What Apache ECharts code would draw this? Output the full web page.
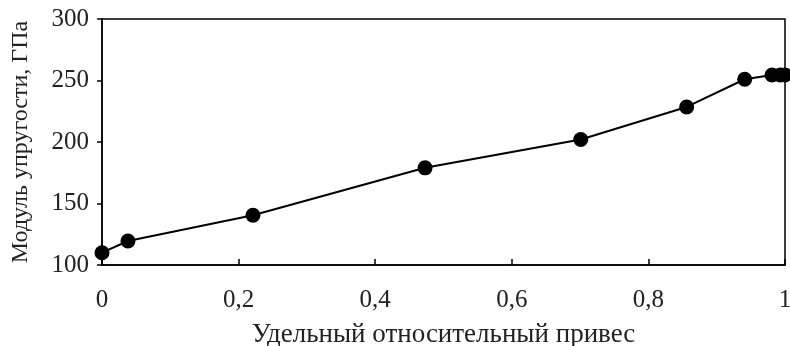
<!DOCTYPE html>
<html>
<head>
<meta charset="utf-8">
<script src="https://cdn.jsdelivr.net/npm/echarts@6/dist/echarts.min.js"></script>
<style>
  html, body { margin: 0; padding: 0; background: #fff; }
  #chart { width: 790px; height: 346px; }
</style>
</head>
<body>
<div id="chart"></div>
<script>
// удельный привес (x) и модуль упругости (y)
const xValues = [0, 0.038, 0.221, 0.473, 0.701, 0.856, 0.941, 0.981, 0.993, 1.0];
const yValues = [110, 119.5, 140.5, 179, 202, 228.5, 251, 254.5, 254.5, 254.5];
const xTitle = 'Удельный относительный привес';
const yTitle = 'Модуль упругости, ГПа';

const chart = echarts.init(document.getElementById('chart'));
const font = 'Liberation Serif';

const option = {
  animation: false,
  grid: {
    left: 102,
    right: 5,
    top: 19,
    bottom: 81,
    outerBoundsMode: 'none',
    containLabel: false,
    show: true,
    borderColor: '#000',
    borderWidth: 1.5,
  },
  xAxis: {
    type: 'value',
    min: 0,
    max: 1,
    interval: 0.2,
    name: xTitle,
    nameLocation: 'middle',
    nameGap: 56,
    nameTextStyle: { fontFamily: font, fontSize: 27, color: '#222' },
    axisLine: { show: true, lineStyle: { color: '#000', width: 1.5 } },
    axisTick: { show: true, inside: true, length: 6, lineStyle: { color: '#000', width: 1.5 } },
    axisLabel: {
      fontFamily: font,
      fontSize: 25,
      color: '#222',
      margin: 23,
      formatter: (v) => String(+v.toFixed(1)).replace('.', ','),
    },
    splitLine: { show: false },
  },
  yAxis: {
    type: 'value',
    min: 100,
    max: 300,
    interval: 50,
    name: yTitle,
    nameLocation: 'middle',
    nameGap: 69,
    nameRotate: 90,
    nameTextStyle: { fontFamily: font, fontSize: 24, color: '#222' },
    axisLine: { show: true, lineStyle: { color: '#000', width: 1.5 } },
    axisTick: { show: true, inside: false, length: 5, lineStyle: { color: '#000', width: 1.5 } },
    axisLabel: { fontFamily: font, fontSize: 25, color: '#222', margin: 13 },
    splitLine: { show: false },
  },
  series: [
    {
      type: 'line',
      data: xValues.map((x, i) => [x, yValues[i]]),
      symbol: 'circle',
      symbolSize: 15,
      clip: false,
      lineStyle: { color: '#000', width: 2 },
      itemStyle: { color: '#000' },
    },
  ],
};

chart.setOption(option);
</script>
</body>
</html>
